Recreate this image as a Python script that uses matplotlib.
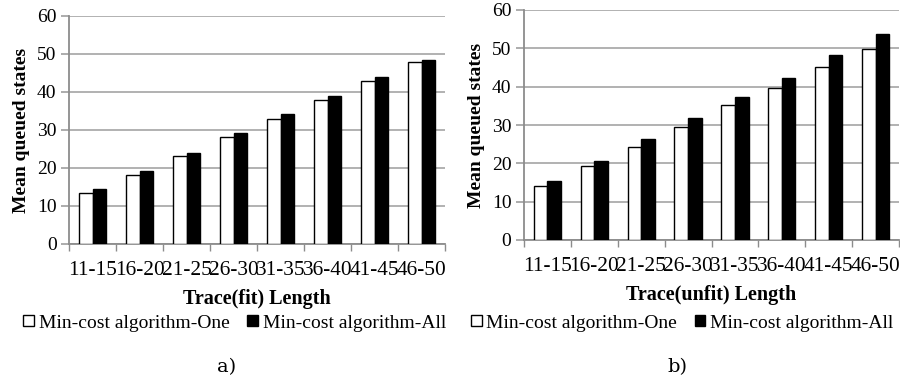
import numpy as np
import matplotlib.pyplot as plt
from matplotlib.patches import Patch

# データ
categories = ["11-15", "16-20", "21-25", "26-30", "31-35", "36-40", "41-45", "46-50"]
fit_one = [13.5, 18.1, 23.2, 28.2, 33.0, 37.8, 42.9, 47.9]
fit_all = [14.4, 19.2, 23.9, 29.3, 34.1, 38.9, 43.9, 48.4]
unfit_one = [14.2, 19.3, 24.3, 29.5, 35.2, 39.7, 45.2, 49.7]
unfit_all = [15.3, 20.6, 26.3, 31.8, 37.4, 42.2, 48.3, 53.7]
series_names = ["Min-cost algorithm-One", "Min-cost algorithm-All"]

plt.rcParams['font.family'] = ['Liberation Serif', 'DejaVu Serif']
plt.rcParams['font.size'] = 14

fig = plt.figure(figsize=(9, 3.8), dpi=100)


def draw_panel(rect, one, alll, xlabel, tag, tag_x, legend_x):
    ax = fig.add_axes(rect)
    x = np.arange(len(categories))
    w = 0.29
    ax.bar(x - w / 2, one, w, color='white', edgecolor='black', linewidth=1.0, zorder=3)
    ax.bar(x + w / 2, alll, w, color='black', edgecolor='black', linewidth=1.0, zorder=3)

    ax.set_xlim(-0.5, len(categories) - 0.5)
    ax.set_ylim(0, 60)
    ax.set_yticks(range(0, 61, 10))
    ax.yaxis.grid(True, color='#ababab', linewidth=1.3, zorder=0)
    ax.set_axisbelow(True)

    # 区切りの目盛り（カテゴリ境界）
    ax.set_xticks(np.arange(-0.5, len(categories), 1.0), minor=True)
    ax.set_xticks(x, categories)
    ax.tick_params(axis='x', which='major', length=0, pad=12, labelsize=15.4)
    ax.tick_params(axis='x', which='minor', length=5, color='#8c8c8c', width=1.0)
    ax.tick_params(axis='y', length=6, color='#a6a6a6', width=1.3, pad=3, labelsize=14)

    for s in ['top', 'right']:
        ax.spines[s].set_visible(False)
    for s in ['left', 'bottom']:
        ax.spines[s].set_color('#8c8c8c')
        ax.spines[s].set_linewidth(1.3)

    ax.set_xlabel(xlabel, fontweight='bold', fontsize=14.5, labelpad=7)
    ax.set_ylabel("Mean queued states", fontweight='bold', fontsize=14, labelpad=5)

    handles = [Patch(facecolor='white', edgecolor='black', linewidth=1.0),
               Patch(facecolor='black', edgecolor='black', linewidth=1.0)]
    fig.legend(handles, series_names, loc='center', bbox_to_anchor=(legend_x, 0.150),
               ncol=2, frameon=False, fontsize=14, handlelength=0.55, handleheight=0.55,
               handletextpad=0.25, columnspacing=0.9, borderaxespad=0, borderpad=0)

    fig.text(tag_x, 1 - 367 / 380, tag, ha='center', va='center', fontsize=14,
             family=['DejaVu Serif'])
    return ax


draw_panel([69 / 900, 1 - 244 / 380, (445 - 69) / 900, (244 - 16) / 380],
           fit_one, fit_all, "Trace(fit) Length", "a)", 227 / 900, 0.2606)
draw_panel([524 / 900, 1 - 240 / 380, (899 - 524) / 900, (240 - 10) / 380],
           unfit_one, unfit_all, "Trace(unfit) Length", "b)", 677 / 900, 0.758)

fig.savefig("out.png", dpi=100)
